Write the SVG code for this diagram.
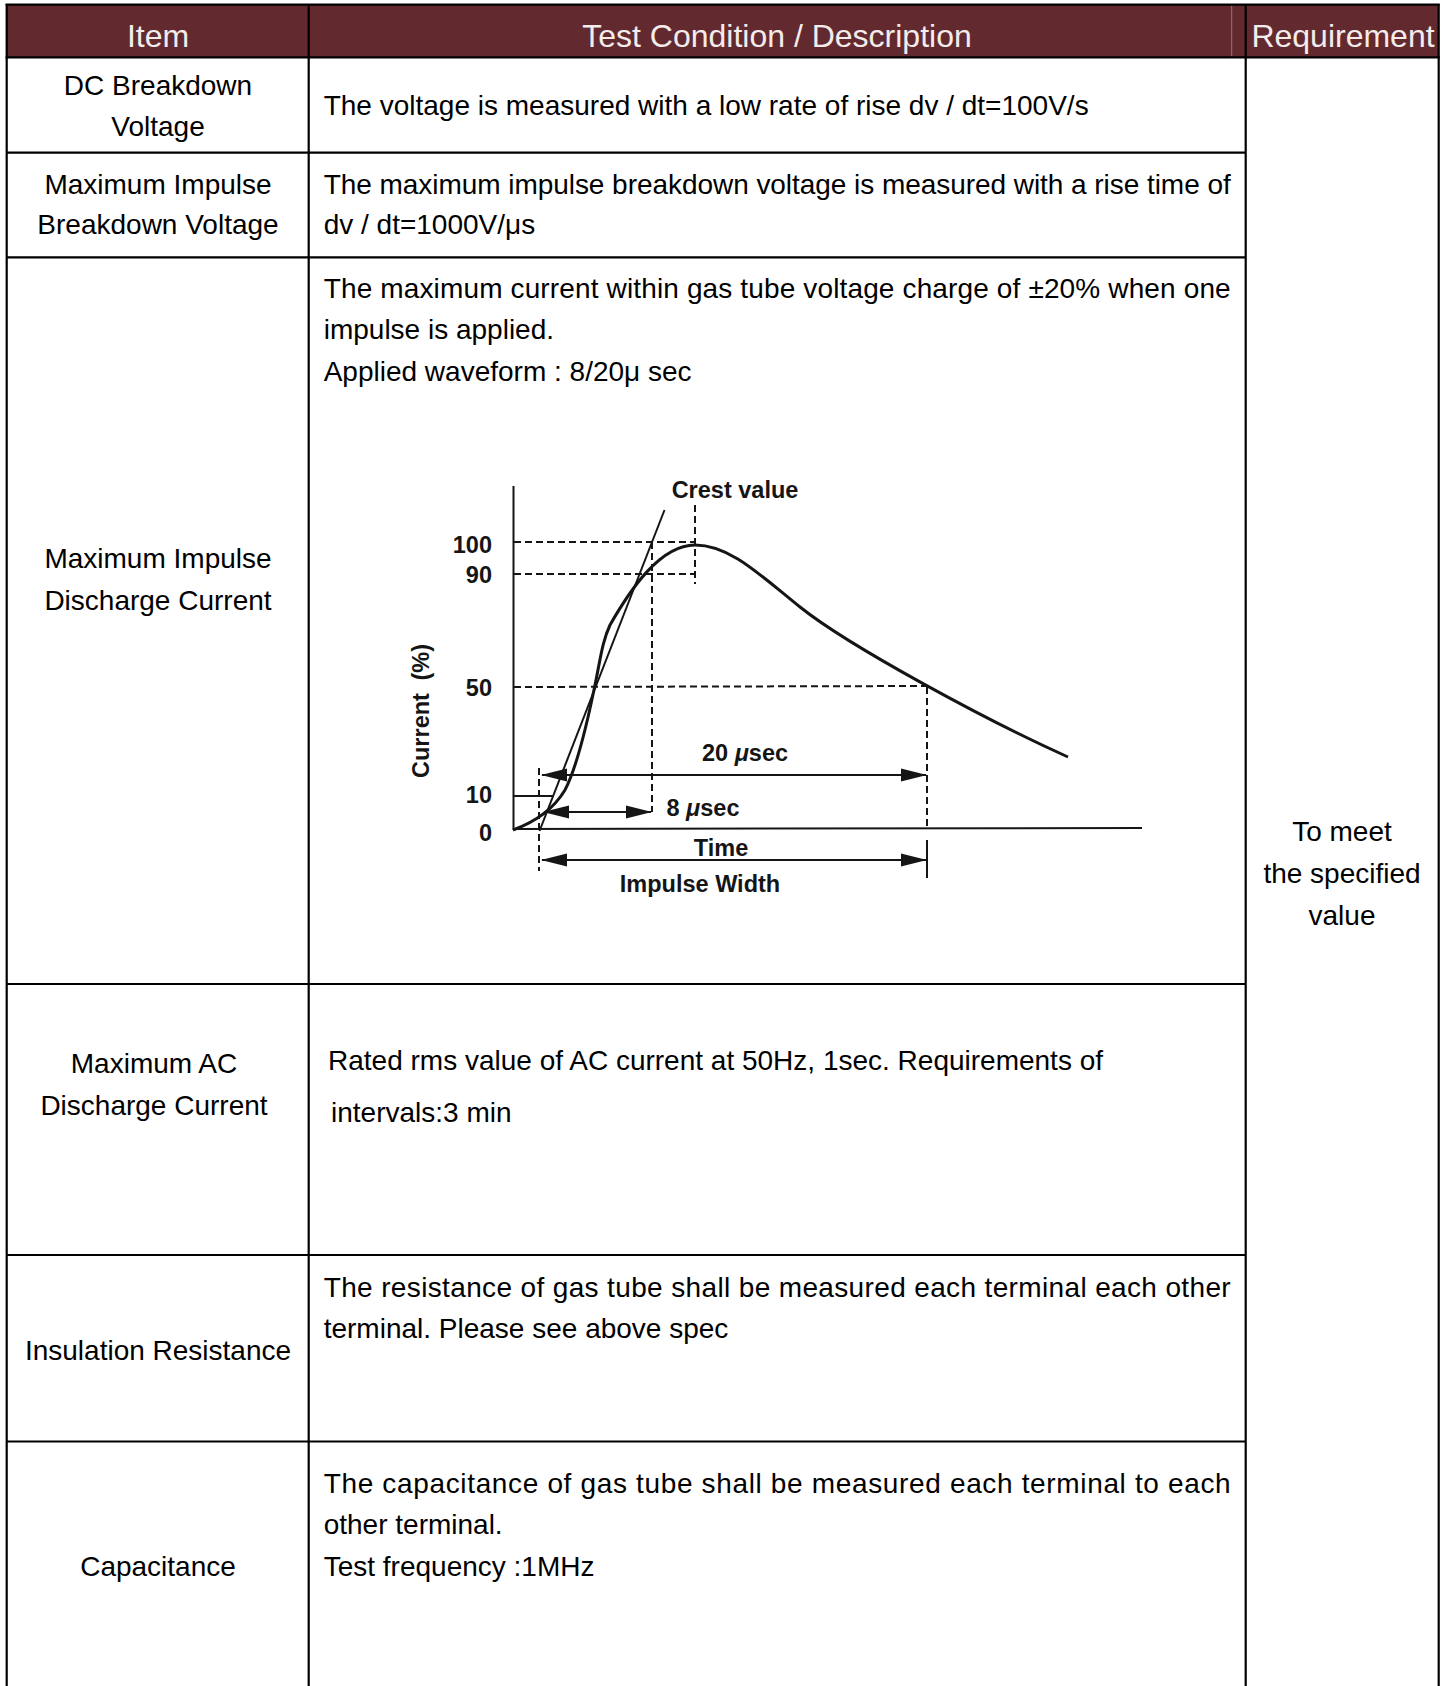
<svg xmlns="http://www.w3.org/2000/svg" width="1451" height="1686" viewBox="0 0 1451 1686">
<style>
.b{fill:#000;font-family:"Liberation Sans",Arial,sans-serif;font-size:28px}
.c{text-anchor:middle}
.h{fill:#f4ecec;font-family:"Liberation Sans",Arial,sans-serif;font-size:32px;text-anchor:middle}
.g{stroke:#000;stroke-width:2.2;fill:none}
.ch{fill:#151515;font-family:"Liberation Sans",Arial,sans-serif;font-size:23.5px;font-weight:bold}
.ax{stroke:#151515;stroke-width:2;fill:none}
.ds{stroke:#151515;stroke-width:2;fill:none;stroke-dasharray:7 4}
.ar{stroke:#151515;stroke-width:2;fill:none;marker-start:url(#ah);marker-end:url(#ah)}
</style>
<defs>
<marker id="ah" markerUnits="userSpaceOnUse" markerWidth="26" markerHeight="14" refX="25" refY="6.5" orient="auto-start-reverse" viewBox="0 0 26 13">
<path d="M0,0 L26,6.5 L0,13 z" fill="#151515"/>
</marker>
</defs>
<rect width="1451" height="1686" fill="#fff"/>

<g id="header">
<rect x="6.7" y="4.7" width="1432" height="52.6" fill="#622a2e"/>
<line x1="1231.7" y1="5" x2="1231.7" y2="57" stroke="#a07474" stroke-width="1"/>
<text class="h" x="158" y="47">Item</text>
<text class="h" x="777" y="47">Test Condition / Description</text>
<text class="h" x="1343" y="47">Requirement</text>
</g>

<g id="grid">
<line class="g" x1="5.6" y1="4.7" x2="1439.8" y2="4.7"/>
<line class="g" x1="5.6" y1="57.3" x2="1439.8" y2="57.3"/>
<line class="g" x1="6.7" y1="4" x2="6.7" y2="1686"/>
<line class="g" x1="308.7" y1="4" x2="308.7" y2="1686"/>
<line class="g" x1="1245.7" y1="4" x2="1245.7" y2="1686"/>
<line class="g" x1="1438.7" y1="4" x2="1438.7" y2="1686"/>
<line class="g" x1="6.7" y1="152.7" x2="1245.7" y2="152.7"/>
<line class="g" x1="6.7" y1="257.3" x2="1245.7" y2="257.3"/>
<line class="g" x1="6.7" y1="984" x2="1245.7" y2="984"/>
<line class="g" x1="6.7" y1="1255" x2="1245.7" y2="1255"/>
<line class="g" x1="6.7" y1="1441.5" x2="1245.7" y2="1441.5"/>
</g>

<g id="row-dc">
<text class="b c" x="158" y="95">DC Breakdown</text>
<text class="b c" x="158" y="136">Voltage</text>
<text class="b" x="323.7" y="115">The voltage is measured with a low rate of rise dv / dt=100V/s</text>
</g>

<g id="row-impulse-bv">
<text class="b c" x="158" y="194">Maximum Impulse</text>
<text class="b c" x="158" y="234">Breakdown Voltage</text>
<text class="b" x="323.7" y="194" textLength="907" lengthAdjust="spacing">The maximum impulse breakdown voltage is measured with a rise time of</text>
<text class="b" x="323.7" y="234">dv / dt=1000V/μs</text>
</g>

<g id="row-impulse-dc">
<text class="b c" x="158" y="568">Maximum Impulse</text>
<text class="b c" x="158" y="610">Discharge Current</text>
<text class="b" x="323.7" y="298" textLength="907" lengthAdjust="spacing">The maximum current within gas tube voltage charge of ±20% when one</text>
<text class="b" x="323.7" y="339">impulse is applied.</text>
<text class="b" x="323.7" y="381">Applied waveform : 8/20μ sec</text>
</g>

<g id="chart">
<line class="ax" x1="513.5" y1="486" x2="513.5" y2="830"/>
<line class="ax" x1="513" y1="829" x2="1142" y2="828"/>
<line class="ds" x1="514" y1="542" x2="695" y2="542"/>
<line class="ds" x1="514" y1="574" x2="695" y2="574"/>
<line class="ds" x1="514" y1="687" x2="927" y2="686"/>
<line class="ds" x1="695" y1="505" x2="695" y2="584"/>
<line class="ds" x1="652" y1="542" x2="652" y2="812"/>
<line class="ds" x1="927" y1="687" x2="927" y2="828"/>
<line class="ds" x1="539" y1="768" x2="539" y2="871"/>
<line class="ax" x1="927" y1="840" x2="927" y2="878"/>
<line class="ax" x1="514" y1="796" x2="553" y2="796"/>
<path class="ax" d="M539.5,831 L664.5,510"/>
<path d="M513,830 C535,822 553,810 565,790 C578,765 588,720 596,680 C601,655 603,640 610,625 C630,590 660,545 695,545 C730,545 760,575 800,607 C850,647 990,722 1068,757" fill="none" stroke="#151515" stroke-width="3"/>
<text class="ch" x="492" y="553" text-anchor="end">100</text>
<text class="ch" x="492" y="583" text-anchor="end">90</text>
<text class="ch" x="492" y="696" text-anchor="end">50</text>
<text class="ch" x="492" y="803" text-anchor="end">10</text>
<text class="ch" x="492" y="841" text-anchor="end">0</text>
<text class="ch" transform="translate(429,711) rotate(-90)" text-anchor="middle">Current <tspan dx="6">(%)</tspan></text>
<text class="ch" x="735" y="498" text-anchor="middle">Crest value</text>
<text class="ch" x="745" y="761" text-anchor="middle">20 <tspan font-style="italic">μ</tspan>sec</text>
<text class="ch" x="703" y="816" text-anchor="middle">8 <tspan font-style="italic">μ</tspan>sec</text>
<text class="ch" x="721" y="856" text-anchor="middle">Time</text>
<text class="ch" x="700" y="892" text-anchor="middle">Impulse Width</text>
</g>

<g id="connectors">
<line class="ar" x1="542" y1="775" x2="926" y2="775"/>
<line class="ar" x1="544" y1="812" x2="651" y2="812"/>
<line class="ar" x1="542" y1="860" x2="926" y2="860"/>
</g>

<g id="row-ac">
<text class="b c" x="154" y="1073">Maximum AC</text>
<text class="b c" x="154" y="1115">Discharge Current</text>
<text class="b" x="328" y="1070">Rated rms value of AC current at 50Hz, 1sec. Requirements of</text>
<text class="b" x="331" y="1122" font-size="26.5">intervals:3 min</text>
</g>

<g id="row-ir">
<text class="b c" x="158" y="1360">Insulation Resistance</text>
<text class="b" x="323.7" y="1297" textLength="907" lengthAdjust="spacing">The resistance of gas tube shall be measured each terminal each other</text>
<text class="b" x="323.7" y="1338">terminal. Please see above spec</text>
</g>

<g id="row-cap">
<text class="b c" x="158" y="1576">Capacitance</text>
<text class="b" x="323.7" y="1493" textLength="907" lengthAdjust="spacing">The capacitance of gas tube shall be measured each terminal to each</text>
<text class="b" x="323.7" y="1534">other terminal.</text>
<text class="b" x="323.7" y="1576">Test frequency :1MHz</text>
</g>

<g id="requirement">
<text class="b c" x="1342" y="841">To meet</text>
<text class="b c" x="1342" y="883">the specified</text>
<text class="b c" x="1342" y="925">value</text>
</g>
</svg>
